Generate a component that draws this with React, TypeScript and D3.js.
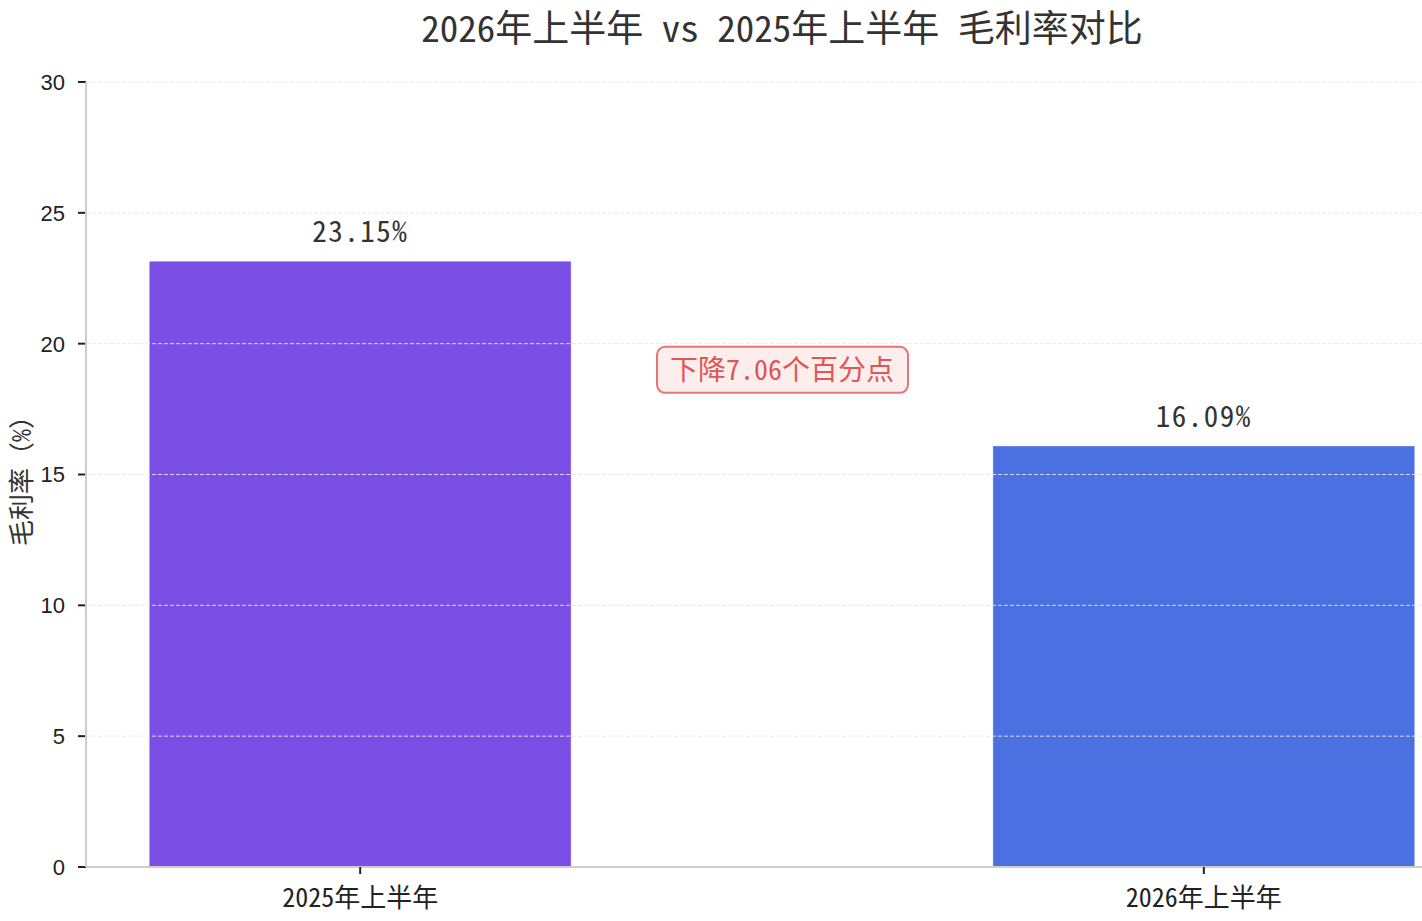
import { useMemo } from "react";
import * as d3 from "d3";

const periods = ["2025年上半年", "2026年上半年"];
const grossMargin = [23.15, 16.09];
const barColors = ["#7b4fe6", "#4a70e1"];
const yTicks = [0, 5, 10, 15, 20, 25, 30];
const noteText = "下降7.06个百分点";
const noteValue = 19;

const W = 1422;
const H = 921;
const FONT = "'Noto Sans Mono CJK SC', 'Noto Sans CJK SC', sans-serif";

export default function App() {
  const margin = { left: 86, right: -56, top: 82, bottom: 54 };

  const { x, y } = useMemo(() => {
    const x = d3
      .scaleLinear()
      .domain([-0.325, periods.length - 1 + 0.325])
      .range([margin.left, W - margin.right]);
    const y = d3
      .scaleLinear()
      .domain([0, 30])
      .range([H - margin.bottom, margin.top]);
    return { x, y };
  }, []);

  const barW = x(0.5) - x(0);
  const x0 = margin.left;
  const y0 = y(0);
  const midX = (x.range()[0] + x.range()[1]) / 2;

  return (
    <svg
      width={W}
      height={H}
      style={{ position: "absolute", left: 0, top: 0, background: "#fff" }}
      fontFamily={FONT}
    >
      <text x={midX} y={42} textAnchor="middle" fontSize={37} fill="#333">
        2026年上半年 vs 2025年上半年 毛利率对比
      </text>

      {periods.map((p, i) => (
        <g key={p}>
          <rect
            x={x(i) - barW / 2}
            y={y(grossMargin[i])}
            width={barW}
            height={y0 - y(grossMargin[i])}
            fill={barColors[i]}
            stroke="#ffffff"
            strokeOpacity={0.35}
            strokeWidth={1}
          />
          <text
            x={x(i)}
            y={y(grossMargin[i]) - 19}
            textAnchor="middle"
            fontSize={29}
            letterSpacing={1.5}
            fill="#333"
          >
            {grossMargin[i].toFixed(2)}%
          </text>
        </g>
      ))}

      {yTicks.map((t) => (
        <g key={t}>
          <line
            x1={x0}
            x2={W}
            y1={y(t)}
            y2={y(t)}
            stroke="#e6e6e6"
            strokeOpacity={0.9}
            strokeDasharray="4,2"
            strokeWidth={1}
          />
          <line x1={x0 - 8} x2={x0} y1={y(t)} y2={y(t)} stroke="#222" strokeWidth={2} />
          <text
            x={x0 - 21}
            y={y(t)}
            dy="0.36em"
            textAnchor="end"
            fontSize={22}
            fontFamily="'Liberation Sans', Arial, sans-serif"
            fill="#222"
          >
            {t}
          </text>
        </g>
      ))}

      <line x1={x0} x2={x0} y1={margin.top} y2={y0} stroke="#cccccc" strokeWidth={2} />
      <line x1={x0} x2={W} y1={y0} y2={y0} stroke="#cccccc" strokeWidth={2} />

      {periods.map((p, i) => (
        <g key={"xt" + p}>
          <line x1={x(i)} x2={x(i)} y1={y0} y2={y0 + 7} stroke="#222" strokeWidth={2} />
          <text x={x(i)} y={y0 + 40} textAnchor="middle" fontSize={26} fill="#222">
            {p}
          </text>
        </g>
      ))}

      <text
        transform={`translate(${31},${(margin.top + y0) / 2}) rotate(-90)`}
        textAnchor="middle"
        fontSize={26}
        fill="#333"
      >
        毛利率（%）
      </text>

      <g transform={`translate(${x(0.5)},${y(noteValue)})`}>
        <rect
          x={-125}
          y={-23}
          width={251}
          height={46}
          rx={8}
          fill="#fdeeee"
          stroke="#e87575"
          strokeWidth={2}
        />
        <text textAnchor="middle" dy="0.36em" fontSize={28} fill="#e05555">
          {noteText}
        </text>
      </g>
    </svg>
  );
}
